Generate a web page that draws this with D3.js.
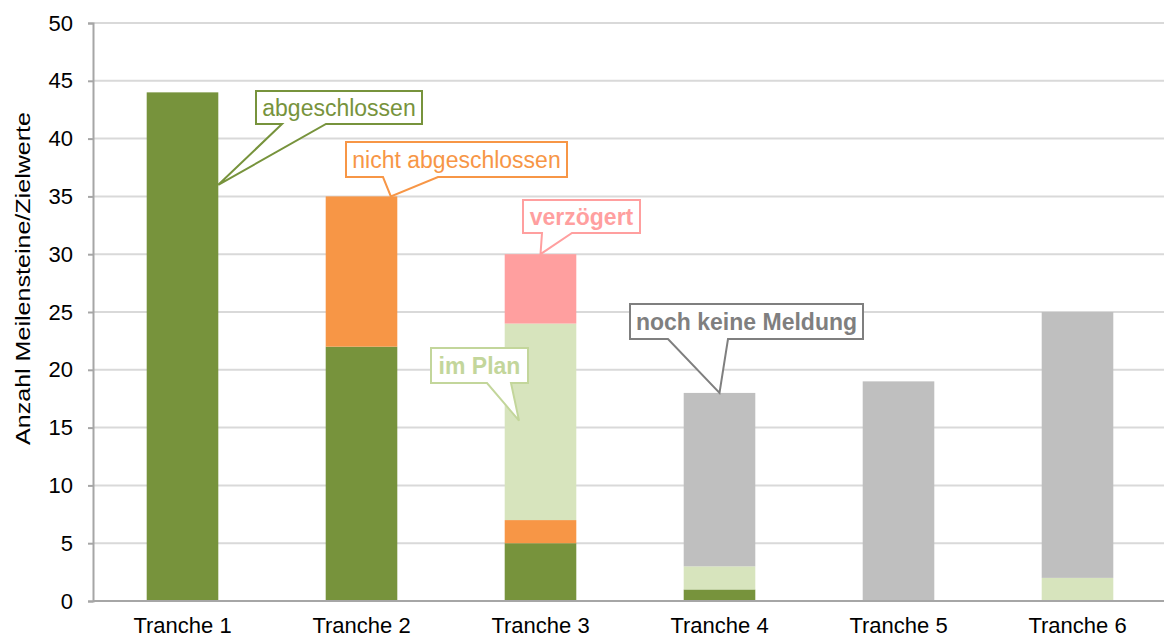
<!DOCTYPE html>
<html>
<head>
<meta charset="utf-8">
<script src="https://cdn.jsdelivr.net/npm/d3@7"></script>
<style>
  body { margin: 0; background: #fff; }
  text { font-family: "Liberation Sans", Arial, sans-serif; }
</style>
</head>
<body>
<div id="chart"></div>
<script>
const tranchen = ['Tranche 1', 'Tranche 2', 'Tranche 3', 'Tranche 4', 'Tranche 5', 'Tranche 6']
const abgeschlossen = [44, 22, 5, 1, 0, 0]
const nichtAbgeschlossen = [0, 13, 2, 0, 0, 0]
const imPlan = [0, 0, 17, 2, 0, 2]
const verzoegert = [0, 0, 6, 0, 0, 0]
const nochKeineMeldung = [0, 0, 0, 15, 19, 23]
const yTicks = [0, 5, 10, 15, 20, 25, 30, 35, 40, 45, 50]

const width = 1164
const height = 639
const margin = { top: 23, left: 93, right: -3, bottom: 38 }
const fontSize = 22
const calloutSize = 23

const svg = d3
  .select('#chart')
  .append('svg')
  .attr('width', width)
  .attr('height', height)

const x = d3
  .scaleBand()
  .domain(tranchen)
  .range([margin.left, width - margin.right])
  .paddingInner(0.6)
  .paddingOuter(0.3)

const y = d3
  .scaleLinear()
  .domain([0, 50])
  .range([height - margin.bottom, margin.top])

const keys = ['abgeschlossen', 'nicht', 'plan', 'verz', 'keine']
const colors = {
  abgeschlossen: '#77933C',
  nicht: '#F79646',
  plan: '#D7E4BD',
  verz: '#FF9F9F',
  keine: '#BFBFBF'
}

const table = tranchen.map((t, i) => ({
  tranche: t,
  abgeschlossen: abgeschlossen[i],
  nicht: nichtAbgeschlossen[i],
  plan: imPlan[i],
  verz: verzoegert[i],
  keine: nochKeineMeldung[i]
}))

const stacked = d3.stack().keys(keys)(table)

// gridlines
svg
  .append('g')
  .selectAll('line')
  .data(yTicks.slice(1))
  .enter()
  .append('line')
  .attr('x1', margin.left)
  .attr('x2', width)
  .attr('y1', d => y(d))
  .attr('y2', d => y(d))
  .attr('stroke', '#D9D9D9')
  .attr('stroke-width', 2)

// y axis
const yAxis = svg
  .append('g')
  .attr('transform', 'translate(' + margin.left + ',0)')
  .call(d3.axisLeft(y).tickValues(yTicks).tickSize(5).tickPadding(15))
yAxis.select('.domain').attr('stroke', '#A6A6A6').attr('stroke-width', 2)
yAxis.selectAll('.tick line').attr('stroke', '#A6A6A6').attr('stroke-width', 2)
yAxis.selectAll('text').attr('font-size', fontSize).attr('fill', '#000')

// bars
svg
  .append('g')
  .selectAll('g')
  .data(stacked)
  .enter()
  .append('g')
  .attr('fill', d => colors[d.key])
  .selectAll('rect')
  .data(d => d)
  .enter()
  .append('rect')
  .attr('x', d => x(d.data.tranche))
  .attr('width', x.bandwidth())
  .attr('y', d => y(d[1]))
  .attr('height', d => y(d[0]) - y(d[1]))

// x axis
const xAxis = svg
  .append('g')
  .attr('transform', 'translate(0,' + y(0) + ')')
  .call(d3.axisBottom(x).tickSize(0).tickPadding(16))
xAxis.select('.domain').attr('stroke', '#A6A6A6').attr('stroke-width', 2)
  .attr('d', 'M' + margin.left + ',0H' + width)
xAxis.selectAll('text').attr('font-size', fontSize).attr('fill', '#000')

// axis title
svg
  .append('text')
  .attr('transform', 'translate(30,278.5) rotate(-90)')
  .attr('text-anchor', 'middle')
  .attr('font-size', 20)
  .attr('textLength', 333)
  .attr('lengthAdjust', 'spacingAndGlyphs')
  .attr('fill', '#000')
  .text('Anzahl Meilensteine/Zielwerte')

// callouts: tip points at a bar, box placed by pixel offsets
const callouts = [
  { text: 'abgeschlossen', color: '#77933C', bold: false, tranche: 'Tranche 1', value: 36, side: 1,
    box: [256, 91, 166, 33], base: [282, 326] },
  { text: 'nicht abgeschlossen', color: '#F79646', bold: false, tranche: 'Tranche 2', value: 35, side: 0.91,
    box: [346, 142, 221, 35], base: [383, 438] },
  { text: 'verzögert', color: '#FF9F9F', bold: true, tranche: 'Tranche 3', value: 30, side: 0.5,
    box: [523, 200, 117, 33], base: [542, 572] },
  { text: 'im Plan', color: '#C3D69B', bold: true, tranche: 'Tranche 3', value: 15.6, side: 0.2,
    box: [431, 348, 97, 35], base: [487, 511] },
  { text: 'noch keine Meldung', color: '#7F7F7F', bold: true, tranche: 'Tranche 4', value: 18, side: 0.5,
    box: [630, 304, 233, 35], base: [668, 728] }
]

const cg = svg.append('g')
callouts.forEach(c => {
  const tx = x(c.tranche) + c.side * x.bandwidth()
  const ty = y(c.value)
  const [bx, by, bw, bh] = c.box
  const yb = by + bh
  const p = d3.path()
  p.moveTo(bx, by)
  p.lineTo(bx + bw, by)
  p.lineTo(bx + bw, yb)
  p.lineTo(c.base[1], yb)
  p.lineTo(tx, ty)
  p.lineTo(c.base[0], yb)
  p.lineTo(bx, yb)
  p.closePath()
  cg.append('path')
    .attr('d', p.toString())
    .attr('fill', '#fff')
    .attr('stroke', c.color)
    .attr('stroke-width', 2)
    .attr('stroke-linejoin', 'miter')
  cg.append('text')
    .attr('x', bx + bw / 2)
    .attr('y', by + bh / 2 + 8)
    .attr('text-anchor', 'middle')
    .attr('font-size', calloutSize)
    .attr('font-weight', c.bold ? 'bold' : 'normal')
    .attr('fill', c.color)
    .text(c.text)
})
</script>
</body>
</html>
